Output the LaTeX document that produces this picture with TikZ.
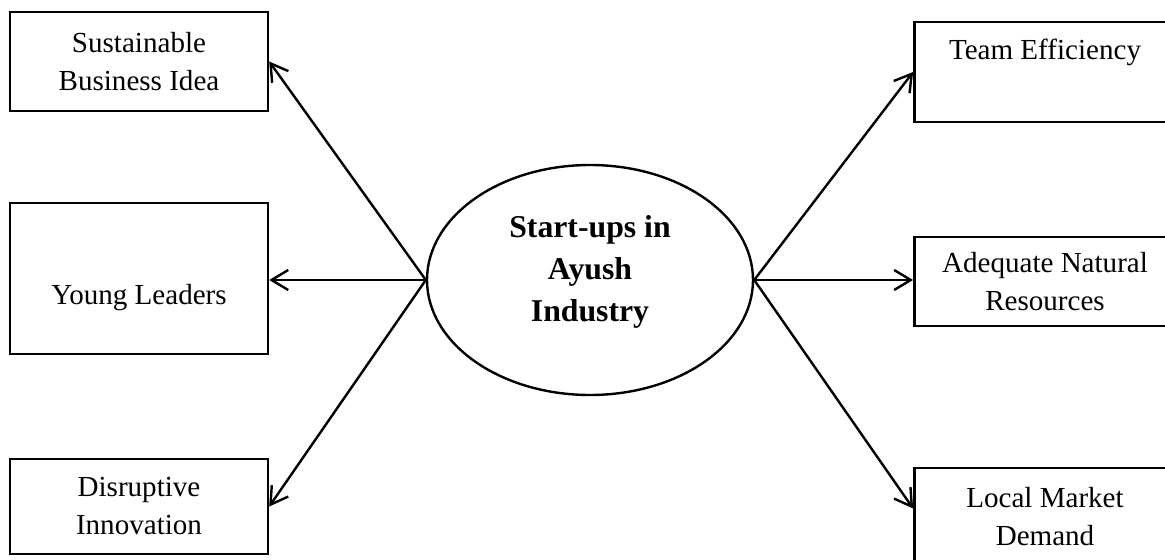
\documentclass[tikz,border=0pt]{standalone}
\usepackage{fontspec}
\setmainfont{Liberation Serif}
\usetikzlibrary{shapes.geometric,arrows.meta}
\tikzset{
  hub/.style   = {ellipse, draw, line width=1.8pt, minimum width=244.5pt,
                  minimum height=172.5pt, inner sep=0pt, align=center,
                  text depth=17pt,   % lifts the three lines a little
                  font=\fontsize{23.8}{31.5}\selectfont\bfseries},
  fbox/.style  = {draw, line width=1.8pt, inner sep=0pt, align=center},
  lbox/.style  = {fbox, minimum width=193.5pt},   % left column
  rbox/.style  = {fbox, minimum width=196pt},     % right column, runs off the edge
  link/.style  = {line width=1.8pt, -{Straight Barb[length=12.5pt, width=15pt]}},
}

\begin{document}
\begin{tikzpicture}[x=0.75pt, y=-0.75pt, font=\fontsize{21.8}{28.5}\selectfont]
  \useasboundingbox (0,0) rectangle (1165,560);

  \node[hub] (hub) at (590,280) {Start-ups in\\Ayush\\Industry};

  % left column
  \node[lbox, minimum height=74.25pt] (sbi) at (139,61.5) {Sustainable\\Business Idea};
  \node[lbox, minimum height=113.25pt,
        label={[yshift=-14.6pt]center:Young Leaders}] (yl) at (139,278.5) {};
  \node[lbox, minimum height=71.25pt] (di) at (139,506.5) {Disruptive\\Innovation};

  % right column
  \node[rbox, minimum height=75pt,
        label={[yshift=15pt]center:Team Efficiency}] (te) at (1045,72) {};
  \node[rbox, minimum height=66.75pt] (anr) at (1045,281.5) {Adequate Natural\\Resources};
  \node[rbox, minimum height=72.75pt] (lmd) at (1045,516.5) {Local Market\\Demand};

  \draw[link] (hub.west) -- (sbi.east);
  \draw[link] (hub.west) -- (hub.west -| yl.east);
  \draw[link] (hub.west) -- (di.east);
  \draw[link] (hub.east) -- (te.west);
  \draw[link] (hub.east) -- (hub.east -| anr.west);
  \draw[link] (hub.east) -- ([yshift=6pt]lmd.west);
\end{tikzpicture}
\end{document}
